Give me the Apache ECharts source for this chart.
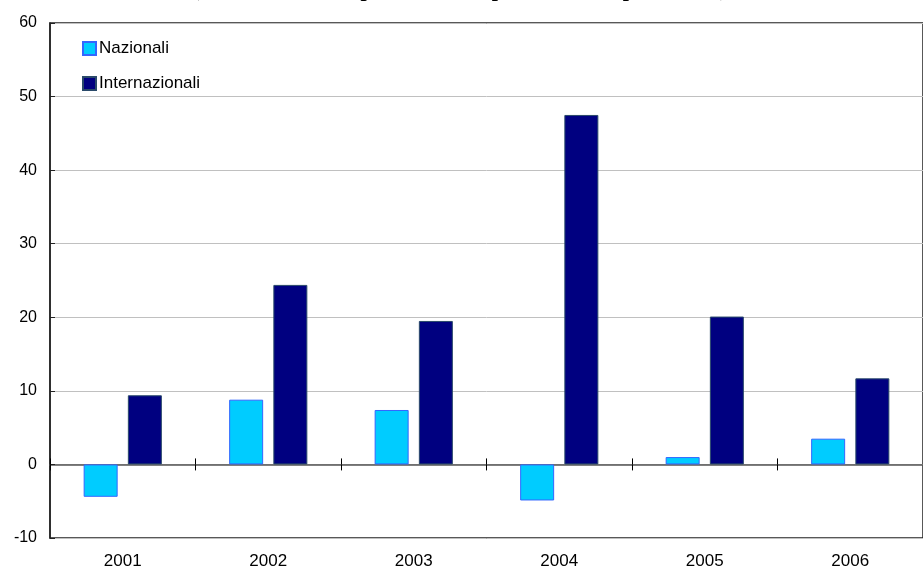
<!DOCTYPE html>
<html>
<head>
<meta charset="utf-8">
<script src="https://cdn.jsdelivr.net/npm/echarts@6/dist/echarts.min.js"></script>
<style>
  html, body { margin: 0; padding: 0; background: #ffffff; }
  #chart { width: 923px; height: 572px; }
</style>
</head>
<body>
<div id="chart"></div>
<script>
// Annual values by category
const years = ['2001', '2002', '2003', '2004', '2005', '2006'];
const nazionali = [-4.4, 8.8, 7.4, -4.9, 1.0, 3.5];
const internazionali = [9.4, 24.4, 19.5, 47.5, 20.1, 11.7];
const yTicks = { min: -10, max: 60, interval: 10 };

const plotRect = { left: 50, top: 23, width: 885, height: 515 };

const chart = echarts.init(document.getElementById('chart'));

chart.setOption({
  animation: false,
  backgroundColor: '#ffffff',
  textStyle: { fontFamily: 'Liberation Sans, Arial, sans-serif' },
  graphic: [{
    type: 'text',
    left: 'center',
    top: -21,
    style: {
      text: "(valori; variazioni percentuali rispetto all'anno precedente)",
      font: 'italic bold 22px "Liberation Serif", "Times New Roman", serif',
      fill: '#000000'
    }
  }],
  grid: [
    Object.assign({ show: true, borderColor: '#222222', borderWidth: 1.5, backgroundColor: 'transparent' }, plotRect),
    // overlay grid used only for the upward half of the zero-line ticks
    Object.assign({ show: false }, plotRect)
  ],
  legend: {
    orient: 'vertical',
    left: 82,
    top: 40,
    padding: 0,
    icon: 'rect',
    itemWidth: 13,
    itemHeight: 13,
    itemGap: 18,
    textStyle: { fontSize: 17, color: '#000000', fontFamily: 'Liberation Sans, Arial, sans-serif', padding: [0, 0, 0, -2] },
    data: ['Nazionali', 'Internazionali']
  },
  xAxis: [
    {
      // bottom axis carrying the year labels
      type: 'category',
      data: years,
      gridIndex: 0,
      position: 'bottom',
      axisLine: { show: false, onZero: false },
      axisTick: { show: false },
      axisLabel: { fontSize: 17, color: '#000000', margin: 15 }
    },
    {
      // zero line with ticks below it
      type: 'category',
      data: years,
      gridIndex: 0,
      position: 'bottom',
      axisLine: { show: true, onZero: true, lineStyle: { color: '#555555', width: 1.5 } },
      axisTick: { show: true, inside: false, length: 6, lineStyle: { color: '#000000', width: 1 } },
      axisLabel: { show: false }
    },
    {
      // zero line ticks above it
      type: 'category',
      data: years,
      gridIndex: 1,
      position: 'bottom',
      axisLine: { show: true, onZero: true, lineStyle: { color: '#555555', width: 0, opacity: 0 } },
      axisTick: { show: true, inside: true, length: 6, lineStyle: { color: '#000000', width: 1 } },
      axisLabel: { show: false }
    }
  ],
  yAxis: [
    {
      type: 'value',
      gridIndex: 0,
      min: yTicks.min,
      max: yTicks.max,
      interval: yTicks.interval,
      axisLine: { show: true, lineStyle: { color: '#222222', width: 1.5 } },
      axisTick: { show: true, inside: true, length: 5, lineStyle: { color: '#222222' } },
      axisLabel: { fontSize: 16, color: '#000000', margin: 13 },
      splitLine: { show: true, lineStyle: { color: '#c0c0c0', width: 1 } }
    },
    {
      type: 'value',
      gridIndex: 1,
      min: yTicks.min,
      max: yTicks.max,
      interval: yTicks.interval,
      show: false
    }
  ],
  series: [
    {
      name: 'Nazionali',
      type: 'bar',
      xAxisIndex: 0,
      yAxisIndex: 0,
      data: nazionali,
      barWidth: 34,
      barGap: '30%',
      itemStyle: { color: '#00ccff', borderColor: '#3366ff', borderWidth: 1 }
    },
    {
      name: 'Internazionali',
      type: 'bar',
      xAxisIndex: 0,
      yAxisIndex: 0,
      data: internazionali,
      barWidth: 34,
      barGap: '30%',
      itemStyle: { color: '#000080', borderColor: '#2a4a6a', borderWidth: 1 }
    }
  ]
});
</script>
</body>
</html>
